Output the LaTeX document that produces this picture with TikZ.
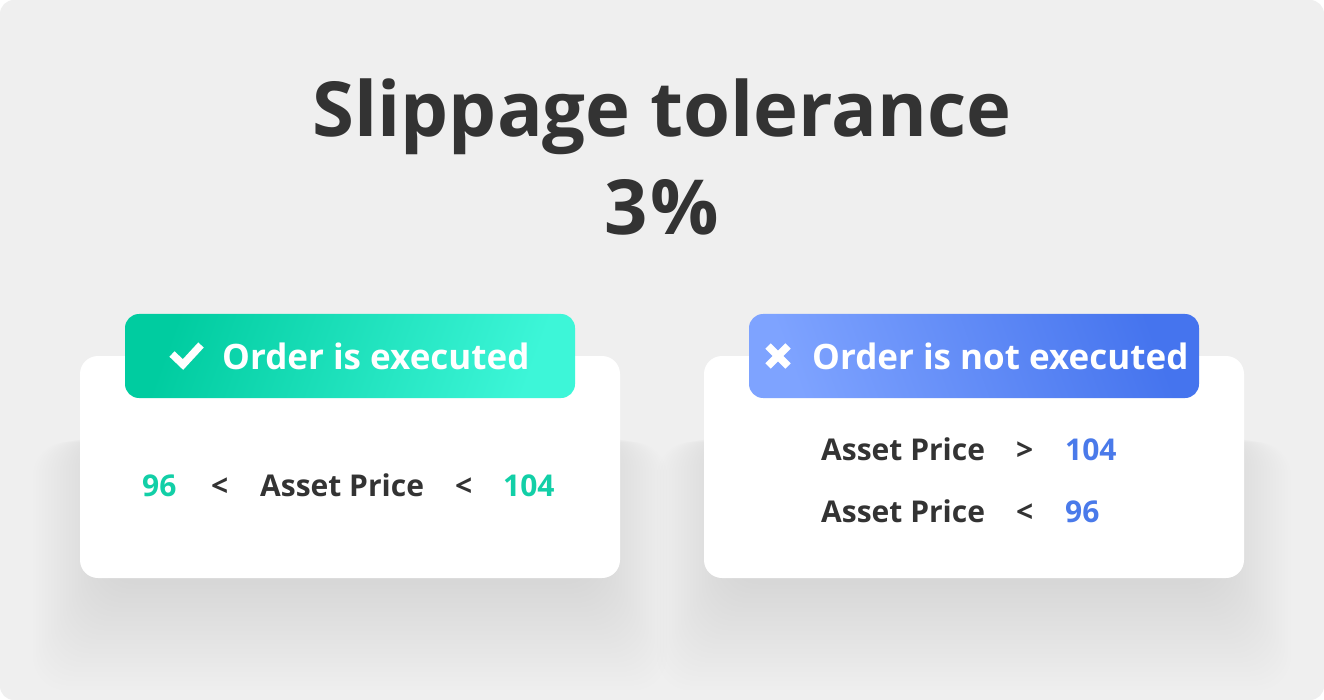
\documentclass[tikz,border=0pt]{standalone}
\usepackage{fontspec}
\setmainfont{Open Sans}
\definecolor{bg}{HTML}{EFEFEF}
\definecolor{ink}{HTML}{333333}
\definecolor{grnA}{HTML}{00CCA0}
\definecolor{grnB}{HTML}{3DF6D8}
\definecolor{grnT}{HTML}{12CFA7}
\definecolor{bluA}{HTML}{7EA3FF}
\definecolor{bluB}{HTML}{4574EE}
\definecolor{bluT}{HTML}{4A7AEA}
\tikzset{
  card/.style={fill=white, rounded corners=18pt},
  badge/.style={rounded corners=14pt},
  title/.style={text=ink, font=\bfseries\fontsize{76}{80}\selectfont, anchor=base, inner sep=0pt},
  badgetxt/.style={text=white, font=\bfseries\fontsize{35}{38}\selectfont, anchor=base west, inner sep=0pt},
  rowtxt/.style={text=ink, font=\bfseries\fontsize{30}{32}\selectfont, anchor=base west, inner sep=0pt},
  icon/.style={white, line width=7.5pt},
}
\begin{document}
\begin{tikzpicture}[x=1pt,y=-1pt]
\useasboundingbox (0,0) rectangle (1324,700);
\fill[white] (0,0) rectangle (1324,700);
\fill[bg, rounded corners=14pt] (0,0) rectangle (1324,700);
% shadows
\foreach \dx in {0,624}{
  \foreach \i in {1,...,24}{
    \fill[black, opacity=0.005, rounded corners=34pt]
      (105+\dx-\i*3, 430+\i*0.5) rectangle (595+\dx+\i*3, 580+\i*4.6);
  }
}
% title
\node[title] (t1) at (662,137) {Slippage tolerance};
\node[title] (t2) at (662,235) {3\kern3pt\%};
% left card
\fill[card] (80,356) rectangle (620,578);
\shade[badge, left color=grnA, right color=grnB, shading angle=70] (125,314) rectangle (575,398);
\node[badgetxt] (lb) at (222,369) {Order is executed};
\draw[icon, line cap=butt, line join=miter] (172,354) -- (183,364.5) -- (201,345);
\node[rowtxt, text=grnT] (l1) at (142,496) {96};
\node[rowtxt] (l2) at (211,496) {<};
\node[rowtxt] (l3) at (260,496) {Asset Price};
\node[rowtxt] (l4) at (455,496) {<};
\node[rowtxt, text=grnT] (l5) at (503,496) {104};
% right card
\fill[card] (704,356) rectangle (1244,578);
\shade[badge, left color=bluA, right color=bluB, shading angle=110] (749,314) rectangle (1199,398);
\node[badgetxt] (rb) at (812,369) {Order is not executed};
\draw[icon] (768,346) -- (788,366) (788,346) -- (768,366);
\node[rowtxt] (r1) at (821,460) {Asset Price};
\node[rowtxt] (r2) at (1016,460) {>};
\node[rowtxt, text=bluT] (r3) at (1065,460) {104};
\node[rowtxt] (r4) at (821,522) {Asset Price};
\node[rowtxt] (r5) at (1016,522) {<};
\node[rowtxt, text=bluT] (r6) at (1065,522) {96};
\end{tikzpicture}
\end{document}
